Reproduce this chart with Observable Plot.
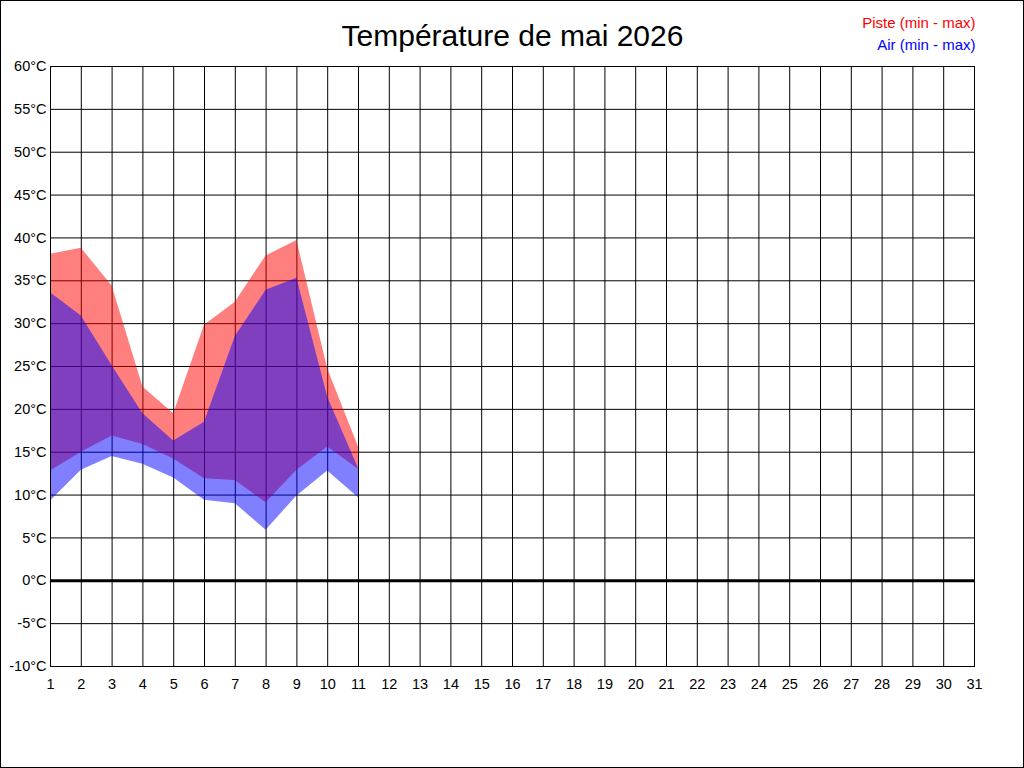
<!DOCTYPE html>
<html><head><meta charset="utf-8">
<script src="https://cdn.jsdelivr.net/npm/d3@7"></script>
<script src="https://cdn.jsdelivr.net/npm/@observablehq/plot@0.6"></script>
<style>
html,body{margin:0;padding:0;background:#fff;}
#chart svg{display:block;outline:1px solid #000;outline-offset:-1px;}
</style></head><body><div id="chart"></div>
<script>
const title = "Température de mai 2026";
const legendPiste = "Piste (min - max)";
const legendAir = "Air (min - max)";
const days = [1, 2, 3, 4, 5, 6, 7, 8, 9, 10, 11];
const pisteMax = [38.1, 38.8, 34.4, 22.6, 19.5, 29.8, 32.5, 37.9, 39.7, 24.7, 15.6];
const pisteMin = [12.8, 15.0, 16.9, 15.9, 14.2, 11.9, 11.7, 9.1, 12.9, 15.6, 13.0];
const airMax = [33.6, 30.9, 25.1, 19.5, 16.3, 18.5, 28.5, 33.9, 35.3, 21.4, 13.1];
const airMin = [9.3, 12.9, 14.5, 13.6, 12.0, 9.4, 9.0, 5.9, 9.9, 12.8, 9.7];
const xTicks = [1,2,3,4,5,6,7,8,9,10,11,12,13,14,15,16,17,18,19,20,21,22,23,24,25,26,27,28,29,30,31];
const yTicks = [-10,-5,0,5,10,15,20,25,30,35,40,45,50,55,60];

const piste = days.map((d, i) => ({day: d, min: pisteMin[i], max: pisteMax[i]}));
const air = days.map((d, i) => ({day: d, min: airMin[i], max: airMax[i]}));

const chart = Plot.plot({
  width: 1024, height: 768,
  marginLeft: 50, marginRight: 50, marginTop: 66, marginBottom: 102,
  style: {fontFamily: "'Liberation Sans', Arial, sans-serif", fontSize: "14.5px", background: "#fff", color: "#000"},
  x: {domain: [1, 31], ticks: xTicks, tickSize: 0, tickPadding: 12, label: null, tickFormat: d => String(d)},
  y: {domain: [-10, 60], ticks: yTicks, tickSize: 0, tickPadding: 4, label: null, tickFormat: d => `${d}°C`},
  marks: [
    Plot.ruleX(xTicks, {stroke: "#000", strokeWidth: 1}),
    Plot.ruleY(yTicks, {stroke: "#000", strokeWidth: 1}),
    Plot.areaY(piste, {x: "day", y1: "min", y2: "max", fill: "#ff0000", fillOpacity: 0.5}),
    Plot.areaY(air, {x: "day", y1: "min", y2: "max", fill: "#0000ff", fillOpacity: 0.5}),
    Plot.ruleY([0], {stroke: "#000", strokeWidth: 3}),
    Plot.frame({stroke: "#000"}),
    Plot.text([title], {frameAnchor: "top", lineAnchor: "bottom", dy: -21, fontSize: 30, fill: "#000"}),
    Plot.text([legendPiste], {frameAnchor: "top-right", textAnchor: "end", lineAnchor: "bottom", dx: 1, dy: -39, fontSize: 15, fill: "#ff0000"}),
    Plot.text([legendAir], {frameAnchor: "top-right", textAnchor: "end", lineAnchor: "bottom", dx: 1, dy: -17, fontSize: 15, fill: "#0000ff"})
  ]
});
document.getElementById("chart").appendChild(chart);
</script>
</body></html>
